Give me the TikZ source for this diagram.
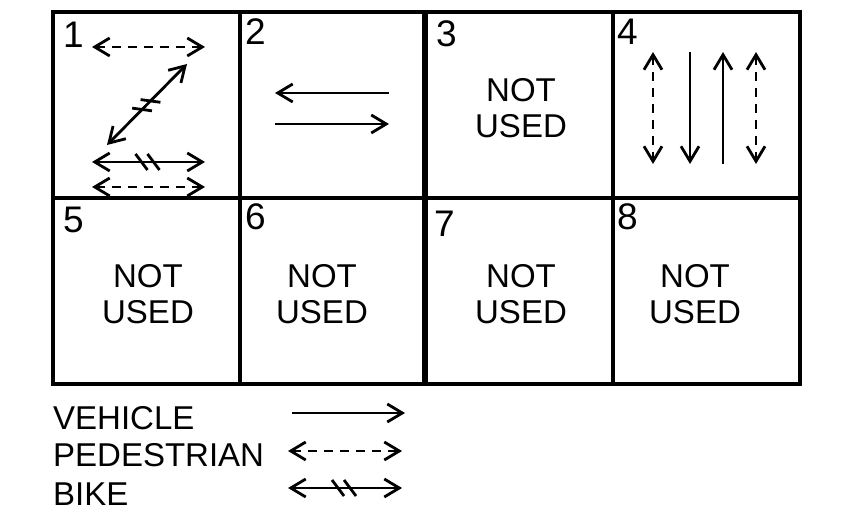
\documentclass[tikz,border=0pt]{standalone}
\usepackage{fontspec}
\setmainfont{Liberation Sans}
\usetikzlibrary{arrows.meta, decorations.markings}

\begin{document}
\begin{tikzpicture}[x=1pt, y=-1pt,
    >={Straight Barb[length=15pt,width=18pt]},
    grid/.style={line width=3.5pt},
    veh/.style={line width=2.8pt},
    ped/.style={line width=2.8pt, dash pattern=on 9pt off 7pt},
    bike/.style={line width=2.8pt, postaction={decorate},
      decoration={markings, mark=at position 0.5 with
        {\draw[solid, -, line width=2.8pt] (-13pt,8pt) -- (-1pt,-8pt) (-1pt,8pt) -- (11pt,-8pt);}}},
    num/.style={font=\fontsize{37}{40}\selectfont, inner sep=0pt, anchor=base west},
    lbl/.style={font=\fontsize{33}{36}\selectfont, inner sep=0pt, align=center}]
  \useasboundingbox (0,0) rectangle (849,529);

  % grid
  \draw[grid] (53,12) rectangle (800,384);
  \draw[grid] (53,198) -- (800,198);
  \draw[grid] (240,12) -- (240,384);
  \draw[grid] (613,12) -- (613,384);
  \draw[line width=6pt] (425,12) -- (425,384);

  % cell numbers
  \node[num] (n1) at (63,48) {1};
  \node[num] (n2) at (245,45) {2};
  \node[num] (n3) at (436,47) {3};
  \node[num] (n4) at (617,45) {4};
  \node[num] (n5) at (63,233) {5};
  \node[num] (n6) at (245,230) {6};
  \node[num] (n7) at (434,237) {7};
  \node[num] (n8) at (617,230) {8};

  % unused phases
  \node[lbl] (nu3) at (521,108) {NOT\\USED};
  \node[lbl] (nu5) at (148,294) {NOT\\USED};
  \node[lbl] (nu6) at (322,294) {NOT\\USED};
  \node[lbl] (nu7) at (521,294) {NOT\\USED};
  \node[lbl] (nu8) at (695,294) {NOT\\USED};

  % phase 1
  \draw[ped, <->] (92,47) -- (205,47);
  \draw[bike, <->] (107,145) -- (187,64);
  \draw[bike, <->] (92,162) -- (205,162);
  \draw[ped, <->] (92,187) -- (205,187);

  % phase 2
  \draw[veh, ->] (389,93) -- (275,93);
  \draw[veh, ->] (275,124) -- (389,124);

  % phase 4
  \draw[ped, <->] (653,52) -- (653,164);
  \draw[veh, ->] (690,52) -- (690,164);
  \draw[veh, ->] (723,164) -- (723,52);
  \draw[ped, <->] (756,52) -- (756,164);

  % legend
  \node[lbl, anchor=base west] (legveh) at (53,429) {VEHICLE};
  \node[lbl, anchor=base west] (legped) at (53,466) {PEDESTRIAN};
  \node[lbl, anchor=base west] (legbike) at (53,505) {BIKE};
  \draw[veh, ->] (292,413) -- (405,413);
  \draw[ped, <->] (288,451) -- (402,451);
  \draw[bike, <->] (288,488) -- (402,488);
\end{tikzpicture}
\end{document}
